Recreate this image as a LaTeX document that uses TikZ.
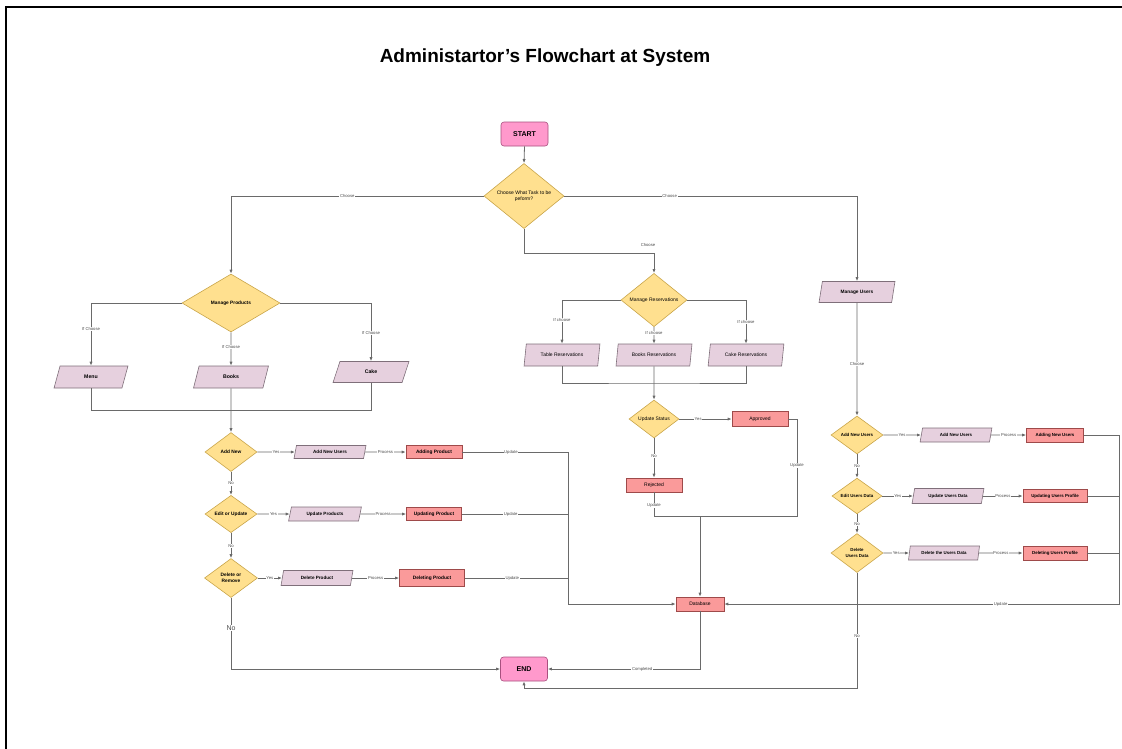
\documentclass[tikz,border=0pt]{standalone}
\usepackage{fontspec}
\setmainfont{Liberation Sans}
\usetikzlibrary{shapes.geometric,arrows.meta}

\definecolor{termfill}{HTML}{FF99CC}
\definecolor{termdraw}{HTML}{A8507F}
\definecolor{decfill}{HTML}{FFE08F}
\definecolor{decdraw}{HTML}{C9A54A}
\definecolor{iofill}{HTML}{E6D0DE}
\definecolor{iodraw}{HTML}{7F6F7A}
\definecolor{procfill}{HTML}{FA9A9A}
\definecolor{procdraw}{HTML}{9E4A4A}
\definecolor{linecol}{HTML}{6A6A6A}

\newcommand{\fsz}[2]{\fontsize{#1}{#2}\selectfont}

\tikzset{
  base/.style={draw, line width=0.6pt, inner sep=0pt, align=center, text=black},
  term/.style={base, rounded corners=3pt, fill=termfill, draw=termdraw,
    minimum width=47pt, minimum height=24pt, font=\fsz{7}{8}\bfseries},
  dec/.style={base, diamond, fill=decfill, draw=decdraw, font=\fsz{4.8}{5.8}\bfseries},
  io/.style={base, trapezium, trapezium left angle=70, trapezium right angle=110,
    trapezium stretches=true, fill=iofill, draw=iodraw, font=\fsz{5.2}{6}\bfseries},
  proc/.style={base, rectangle, fill=procfill, draw=procdraw, font=\fsz{4.8}{6}\bfseries},
  reg/.style={font=\fsz{5}{6}},
  line/.style={draw=linecol, line width=0.8pt},
  arrow/.style={line, -{Latex[length=4pt,width=3.2pt]}},
  lbl/.style={font=\fsz{4.2}{5}, text=black!70, fill=white, inner sep=0.6pt},
}

\begin{document}
\begin{tikzpicture}[x=1pt, y=-1pt]
\useasboundingbox (0,0) rectangle (1122,748);
% page frame
\draw[line width=2pt] (6,749) -- (6,7) -- (1123,7);

\node[font=\fsz{19}{22}\bfseries] (title) at (545,57.5) {Administartor's Flowchart at System};

% ---- top ----
\node[term] (start) at (524.5,134) {START};
\node[dec, minimum width=80pt, minimum height=59pt, font=\fsz{5}{6}] (choose) at (524,196) {Choose What Task to be\\peform?};

% ---- products ----
\node[dec, minimum width=98pt, minimum height=58pt] (mprod) at (231,303) {Manage Products};
\node[io, minimum width=74pt, minimum height=22pt] (menu) at (91,377) {Menu};
\node[io, minimum width=75pt, minimum height=22pt] (books) at (231,377) {Books};
\node[io, minimum width=76pt, minimum height=21pt] (cake) at (371,372) {Cake};

\node[dec, minimum width=52pt, minimum height=39pt] (addnew) at (231,452) {Add New};
\node[io, minimum width=72pt, minimum height=13pt, font=\fsz{4.6}{5.5}\bfseries] (anu) at (330,452) {Add New Users};
\node[proc, minimum width=56pt, minimum height=13pt] (addp) at (434,452) {Adding Product};

\node[dec, minimum width=52pt, minimum height=36pt] (editup) at (231,514) {Edit or Update};
\node[io, minimum width=73pt, minimum height=14pt, font=\fsz{4.6}{5.5}\bfseries] (updprods) at (325,514) {Update Products};
\node[proc, minimum width=55pt, minimum height=13pt] (updp) at (434,514) {Updating Product};

\node[dec, minimum width=53pt, minimum height=39pt] (delrem) at (231,578) {Delete or\\Remove};
\node[io, minimum width=72pt, minimum height=15pt, font=\fsz{4.6}{5.5}\bfseries] (delprod) at (317,578) {Delete Product};
\node[proc, minimum width=65pt, minimum height=17pt] (delp) at (432,578) {Deleting Product};

\node[term] (end) at (524,669) {END};
\node[proc, reg, minimum width=48pt, minimum height=14pt] (db) at (700,604) {Database};

% ---- reservations ----
\node[dec, reg, minimum width=66pt, minimum height=36pt] (mres) at (654,300) {Manage Reservations};
\node[io, reg, minimum width=76pt, minimum height=22pt] (tres) at (562,355) {Table Reservations};
\node[io, reg, minimum width=76pt, minimum height=22pt] (bres) at (654,355) {Books Reservations};
\node[io, reg, minimum width=76pt, minimum height=22pt] (cres) at (746,355) {Cake Reservations};
\node[dec, reg, minimum width=50pt, minimum height=38pt] (ustat) at (654,419) {Update Status};
\node[proc, reg, minimum width=56pt, minimum height=15pt] (appr) at (760,419) {Approved};
\node[proc, reg, minimum width=56pt, minimum height=14pt] (rej) at (654,485) {Rejected};

% ---- users ----
\node[io, minimum width=76pt, minimum height=21pt, font=\fsz{4.8}{5.8}\bfseries] (musers) at (857,292) {Manage Users};
\node[dec, minimum width=52pt, minimum height=38pt, font=\fsz{4.4}{5.4}\bfseries] (anuD) at (857,435) {Add New Users};
\node[io, minimum width=72pt, minimum height=14pt, font=\fsz{4.4}{5.4}\bfseries] (anuIO) at (956,435) {Add New Users};
\node[proc, minimum width=57pt, minimum height=14pt, font=\fsz{4.4}{5.4}\bfseries] (anuP) at (1055,435) {Adding New Users};
\node[dec, minimum width=50pt, minimum height=34pt, font=\fsz{4.4}{5.4}\bfseries] (eud) at (857,496) {Edit Users Data};
\node[io, minimum width=72pt, minimum height=15pt, font=\fsz{4.4}{5.4}\bfseries] (uud) at (948,496) {Update Users Data};
\node[proc, minimum width=64pt, minimum height=13pt, font=\fsz{4.4}{5.4}\bfseries] (uup) at (1055,496) {Updating Users Profile};
\node[dec, minimum width=52pt, minimum height=39pt, font=\fsz{4.4}{5.4}\bfseries] (dud) at (857,553) {Delete\\Users Data};
\node[io, minimum width=71pt, minimum height=14pt, font=\fsz{4.4}{5.4}\bfseries] (dtud) at (944,553) {Delete the Users Data};
\node[proc, minimum width=64pt, minimum height=14pt, font=\fsz{4.4}{5.4}\bfseries] (dup) at (1055,553) {Deleting Users Profile};

% ---- bend points ----
\coordinate (rb) at (654,253);
\coordinate (jp) at (231,410);
\coordinate (lbus) at (568,604);
\coordinate (jr) at (654,383);
\coordinate (ar) at (797,516);
\coordinate (rj) at (700,516);
\coordinate (rbus) at (1119,604);
\coordinate (eb) at (524,688);

% ---- connectors: top ----
\draw[arrow] (start.south) -- (choose.north);
\draw[arrow] (choose.west) -| node[lbl,pos=0.27]{Choose} (mprod.north);
\draw[arrow] (choose.east) -| node[lbl,pos=0.18]{Choose} (musers.north);
\draw[arrow] (choose.south) |- (rb) node[lbl, fill=none, above=5pt, xshift=-6pt]{Choose} -- (mres.north);

% ---- connectors: products ----
\draw[arrow] (mprod.west) -| node[lbl,pos=0.71]{If Choose} (menu.north);
\draw[arrow] (mprod.south) -- node[lbl,pos=0.44]{If Choose} (books.north);
\draw[arrow] (mprod.east) -| node[lbl,pos=0.76]{If Choose} (cake.north);
\draw[line] (menu.south) |- (jp);
\draw[line] (cake.south) |- (jp);
\draw[arrow] (books.south) -- (addnew.north);

\draw[arrow] (addnew.east) -- node[lbl]{Yes} (anu.west);
\draw[arrow] (anu.east) -- node[lbl]{Process} (addp.west);
\draw[arrow] (addnew.south) -- node[lbl]{No} (editup.north);
\draw[arrow] (editup.east) -- node[lbl]{Yes} (updprods.west);
\draw[arrow] (updprods.east) -- node[lbl]{Process} (updp.west);
\draw[arrow] (editup.south) -- node[lbl]{No} (delrem.north);
\draw[arrow] (delrem.east) -- node[lbl]{Yes} (delprod.west);
\draw[arrow] (delprod.east) -- node[lbl]{Process} (delp.west);
\draw[arrow] (delrem.south) |- node[lbl, pos=0.21, font=\fsz{7}{8}]{No} (end.west);

\draw[line] (addp.east) -| node[lbl,pos=0.23]{Update} (lbus);
\draw[line] (updp.east) -| node[lbl,pos=0.23]{Update} (lbus);
\draw[arrow] (delp.east) -| node[lbl,pos=0.23]{Update} (lbus) -- (db.west);

% ---- connectors: reservations ----
\draw[arrow] (mres.west) -| node[lbl,pos=0.73]{If choose} (tres.north);
\draw[arrow] (mres.south) -- node[lbl,pos=0.35]{If choose} (bres.north);
\draw[arrow] (mres.east) -| node[lbl,pos=0.75]{If choose} (cres.north);
\draw[line] (tres.south) |- (jr) -| (cres.south);
\draw[arrow] (bres.south) -- (ustat.north);
\draw[arrow] (ustat.east) -- node[lbl,pos=0.36]{Yes} (appr.west);
\draw[arrow] (ustat.south) -- node[lbl,pos=0.45]{No} (rej.north);
\draw[line] (appr.east) -| node[lbl,pos=0.74]{Update} (ar) -- (rj);
\draw[line] (rej.south) |- node[lbl,pos=0.27]{Update} (rj);
\draw[arrow] (rj) -- (db.north);

% ---- connectors: users ----
\draw[arrow] (musers.south) -- node[lbl,pos=0.54]{Choose} (anuD.north);
\draw[arrow] (anuD.east) -- node[lbl]{Yes} (anuIO.west);
\draw[arrow] (anuIO.east) -- node[lbl]{Process} (anuP.west);
\draw[arrow] (anuD.south) -- node[lbl]{No} (eud.north);
\draw[arrow] (eud.east) -- node[lbl]{Yes} (uud.west);
\draw[arrow] (uud.east) -- node[lbl]{Process} (uup.west);
\draw[arrow] (eud.south) -- node[lbl]{No} (dud.north);
\draw[arrow] (dud.east) -- node[lbl]{Yes} (dtud.west);
\draw[arrow] (dtud.east) -- node[lbl]{Process} (dup.west);
\draw[line] (anuP.east) -| (rbus);
\draw[line] (uup.east) -| (rbus);
\draw[arrow] (dup.east) -| (rbus) -- node[lbl,pos=0.3]{Update} (db.east);

% ---- connectors: to END ----
\draw[arrow] (dud.south) |- node[lbl,pos=0.275]{No} (eb) -- (end.south);
\draw[arrow] (db.south) |- node[lbl,pos=0.69]{Completed} (end.east);
\end{tikzpicture}
\end{document}
